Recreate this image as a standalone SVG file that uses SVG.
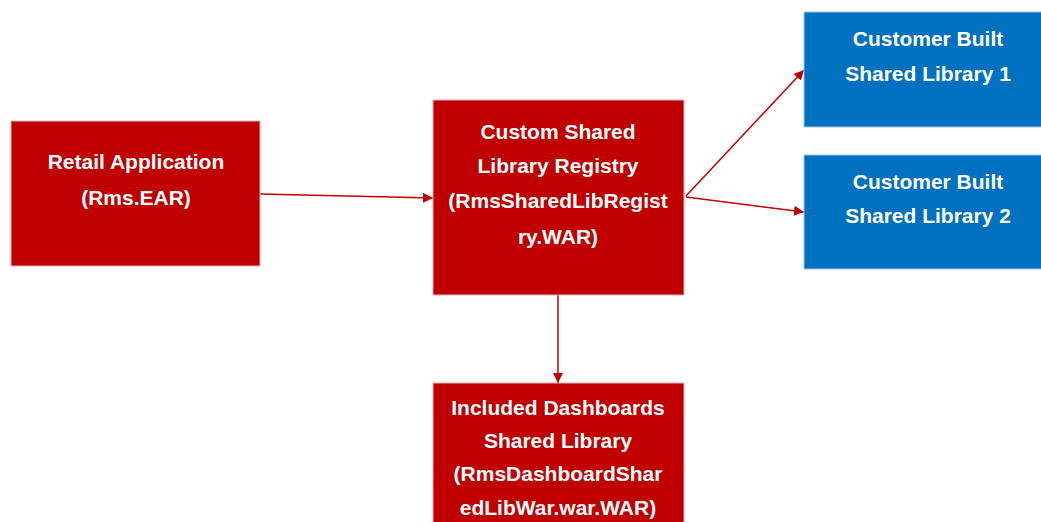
<svg xmlns="http://www.w3.org/2000/svg" width="1041" height="522" viewBox="0 0 1041 522">
<style>
.red{fill:#C00000;stroke:#E8B0B0;stroke-width:1}
.blue{fill:#0070C0;stroke:#A0C4E4;stroke-width:1}
.t{font-family:"Liberation Sans",Arial,sans-serif;font-weight:bold;font-size:21px;fill:#FFFFFF;text-anchor:middle}
.c{stroke:#C00000;stroke-width:1.5;fill:none}
</style>
<defs>
<marker id="ah" viewBox="0 0 10 10" refX="10" refY="5" markerWidth="10" markerHeight="10" markerUnits="userSpaceOnUse" orient="auto">
<path d="M0,0 L10,5 L0,10 Z" fill="#C00000"/>
</marker>
</defs>
<rect width="1041" height="522" fill="#FFFFFF"/>
<g id="connectors">
<line class="c" x1="260" y1="194" x2="433" y2="198" marker-end="url(#ah)"/>
<line class="c" x1="686" y1="196" x2="804" y2="70" marker-end="url(#ah)"/>
<line class="c" x1="686" y1="197" x2="804" y2="212" marker-end="url(#ah)"/>
<line class="c" x1="558" y1="295" x2="558" y2="383" marker-end="url(#ah)"/>
</g>
<g id="retail">
<rect class="red" x="11" y="121" width="249" height="145"/>
<text class="t" x="136" y="169">Retail Application</text>
<text class="t" x="136" y="205">(Rms.EAR)</text>
</g>
<g id="registry">
<rect class="red" x="433" y="100" width="251" height="195"/>
<text class="t" x="558" y="139">Custom Shared</text>
<text class="t" x="558" y="173">Library Registry</text>
<text class="t" x="558" y="208">(RmsSharedLibRegist</text>
<text class="t" x="558" y="244">ry.WAR)</text>
</g>
<g id="customer1">
<rect class="blue" x="804" y="12" width="250" height="115"/>
<text class="t" x="928" y="46">Customer Built</text>
<text class="t" x="928" y="81">Shared Library 1</text>
</g>
<g id="customer2">
<rect class="blue" x="804" y="155" width="250" height="114"/>
<text class="t" x="928" y="189">Customer Built</text>
<text class="t" x="928" y="223">Shared Library 2</text>
</g>
<g id="included">
<rect class="red" x="433" y="383" width="251" height="150"/>
<text class="t" x="558" y="415">Included Dashboards</text>
<text class="t" x="558" y="448">Shared Library</text>
<text class="t" x="558" y="481">(RmsDashboardShar</text>
<text class="t" x="558" y="515">edLibWar.war.WAR)</text>
</g>
</svg>
